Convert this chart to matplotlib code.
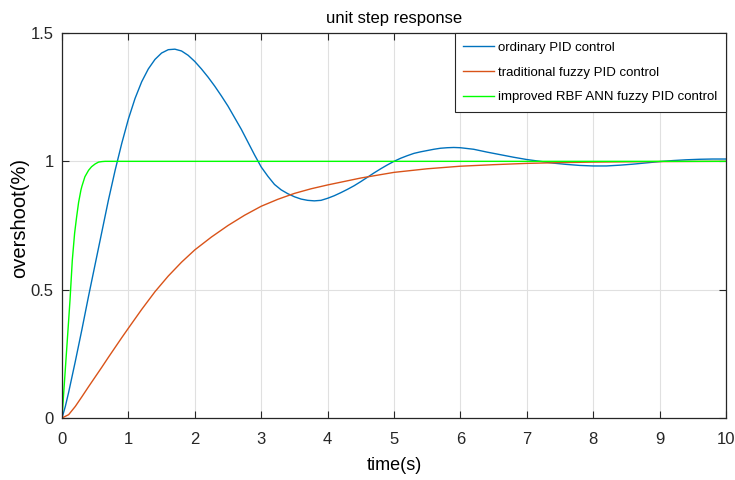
import matplotlib
matplotlib.use("Agg")
import matplotlib.pyplot as plt

plt.rcParams['font.family'] = ['Liberation Sans Narrow', 'Liberation Sans', 'DejaVu Sans']

# values
t_pid = [0, 0.05, 0.1, 0.2, 0.3, 0.4, 0.5, 0.6, 0.7, 0.8, 0.9, 1.0, 1.1, 1.2, 1.3,
         1.4, 1.5, 1.6, 1.7, 1.8, 1.9, 2.0, 2.1, 2.2, 2.3, 2.4, 2.5, 2.6, 2.7, 2.8,
         2.9, 3.0, 3.1, 3.2, 3.3, 3.4, 3.5, 3.6, 3.7, 3.8, 3.9, 4.0, 4.1, 4.2, 4.3,
         4.4, 4.5, 4.6, 4.7, 4.8, 4.9, 5.0, 5.1, 5.2, 5.3, 5.4, 5.5, 5.6, 5.7, 5.8,
         5.9, 6.0, 6.2, 6.4, 6.6, 6.8, 7.0, 7.2, 7.4, 7.6, 7.8, 8.0, 8.2, 8.4, 8.6,
         8.8, 9.0, 9.2, 9.4, 9.6, 9.8, 10.0]
y_pid = [0, 0.045, 0.1, 0.22, 0.345, 0.475, 0.6, 0.725, 0.85, 0.965, 1.07, 1.165,
         1.245, 1.31, 1.36, 1.397, 1.422, 1.435, 1.437, 1.43, 1.413, 1.389, 1.36,
         1.328, 1.293, 1.255, 1.215, 1.17, 1.125, 1.075, 1.025, 0.978, 0.942, 0.91,
         0.889, 0.874, 0.862, 0.853, 0.848, 0.846, 0.848, 0.856, 0.866, 0.878, 0.891,
         0.905, 0.921, 0.938, 0.955, 0.971, 0.986, 1.0, 1.012, 1.022, 1.031, 1.037,
         1.042, 1.047, 1.051, 1.053, 1.054, 1.053, 1.047, 1.036, 1.026, 1.016, 1.007,
         1.0, 0.993, 0.988, 0.984, 0.982, 0.982, 0.985, 0.989, 0.994, 0.999, 1.003,
         1.006, 1.008, 1.009, 1.009]

t_fuzzy = [0, 0.1, 0.2, 0.3, 0.4, 0.5, 0.6, 0.7, 0.8, 0.9, 1.0, 1.2, 1.4, 1.6, 1.8,
           2.0, 2.25, 2.5, 2.75, 3.0, 3.25, 3.5, 3.75, 4.0, 4.5, 5.0, 5.5, 6.0, 6.5,
           7.0, 7.5, 8.0, 9.0, 10.0]
y_fuzzy = [0, 0.013, 0.045, 0.083, 0.122, 0.16, 0.198, 0.237, 0.275, 0.313, 0.35,
           0.423, 0.492, 0.553, 0.607, 0.655, 0.705, 0.75, 0.79, 0.825, 0.852, 0.875,
           0.893, 0.908, 0.935, 0.957, 0.971, 0.981, 0.987, 0.992, 0.995, 0.997,
           0.999, 1.0]

t_rbf = [0, 0.05, 0.1, 0.12, 0.155, 0.19, 0.22, 0.25, 0.285, 0.3, 0.345, 0.4, 0.445,
         0.5, 0.55, 0.6, 0.65, 10.0]
y_rbf = [0, 0.19, 0.38, 0.457, 0.614, 0.72, 0.783, 0.84, 0.888, 0.903, 0.94, 0.965,
         0.979, 0.99, 0.997, 0.999, 1.0, 1.0]

labels = ['ordinary PID control', 'traditional fuzzy PID control',
          'improved RBF ANN fuzzy PID control']
colors = ['#0072BD', '#D95319', '#00FF00']

x_ticks = list(range(0, 11))
y_ticks = [0, 0.5, 1, 1.5]
y_tick_labels = ['0', '0.5', '1', '1.5']

fig = plt.figure(figsize=(7.35, 4.8), dpi=100)
ax = fig.add_axes([62/735, 62/480, 664/735, 385/480])

ax.plot(t_pid, y_pid, color=colors[0], lw=1.0, label=labels[0])
ax.plot(t_fuzzy, y_fuzzy, color=colors[1], lw=1.0, label=labels[1])
ax.plot(t_rbf, y_rbf, color=colors[2], lw=1.0, label=labels[2])

ax.set_xlim(0, 10)
ax.set_ylim(0, 1.5)
ax.set_xticks(x_ticks)
ax.set_yticks(y_ticks)
ax.set_yticklabels(y_tick_labels)

#MATLAB-like box and ticks
ax.grid(True, color='#e0e0e0', lw=0.8)
ax.set_axisbelow(True)
ax.tick_params(direction='in', length=5, width=0.8, top=True, right=True,
               labelsize=12, colors='#262626', pad=6)
ax.tick_params(axis='x', pad=10)
for spine in ax.spines.values():
    spine.set_color('#262626')
    spine.set_linewidth(0.9)

ax.set_title('unit step response', fontsize=12, color='#000000', pad=7)
ax.set_xlabel('time(s)', fontsize=13)
ax.xaxis.set_label_coords(0.5, -0.10)
ax.set_ylabel('overshoot(%)', fontsize=14.5)
ax.yaxis.set_label_coords(-0.05, 0.52)

leg = ax.legend(loc='upper right', bbox_to_anchor=(1, 1), borderaxespad=0,
                fontsize=9.5, fancybox=False, framealpha=1, edgecolor='#262626',
                handlelength=2.3, handletextpad=0.35, labelspacing=0.95,
                borderpad=0.65)
leg.get_frame().set_linewidth(0.8)

plt.savefig('out.png', dpi=100)
